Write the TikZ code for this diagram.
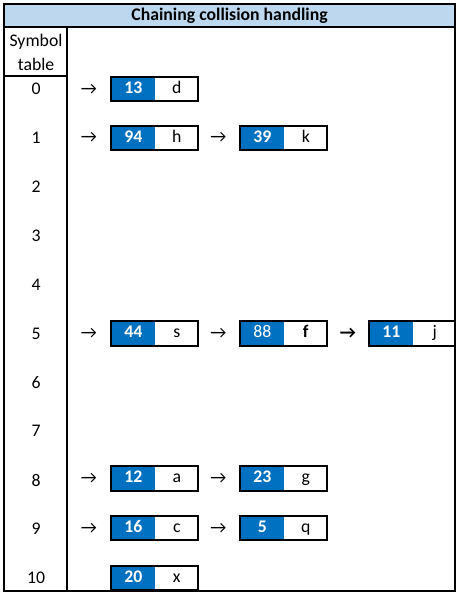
\documentclass[tikz,border=0pt]{standalone}
\usepackage{fontspec}
\setmainfont{Carlito}
\usetikzlibrary{positioning}
\definecolor{keyblue}{HTML}{0070C0}
\definecolor{titleblue}{HTML}{BDD7EE}
\newcommand\fs{\fontsize{13.3}{15}\selectfont}
\tikzset{
  frame/.style={draw=black, line width=1.5pt},
  cellbase/.style={minimum height=18pt, inner sep=0pt, anchor=west, text height=1.55ex, text depth=0.15ex},
  keycell/.style={cellbase, fill=keyblue, text=white, font=\fs\bfseries, minimum width=33pt},
  valcell/.style={cellbase, fill=white, text=black, font=\fs, minimum width=31.5pt},
  boxline/.style={draw=black, line width=1.5pt},
  idx/.style={font=\fs, inner sep=0pt},
  arr/.style={font=\fs, inner sep=0pt},
}
\newcommand\entry[5]{%
  \node[keycell] (#1k) at (#2,#3) {#4};
  \node[valcell, anchor=west] (#1v) at (#1k.east) {#5};
  \draw[boxline] (#1k.north west) rectangle (#1v.south east);
}
\begin{document}
\begin{tikzpicture}[x=0.75pt,y=-0.75pt]
\useasboundingbox (0,0) rectangle (460,596);
% title band
\fill[titleblue] (4,4) rectangle (455,27);
\node[font=\fs\bfseries, inner sep=0pt] (title) at (229.5,16) {Chaining collision handling};
% index column header
\node[idx] (h1) at (36,42) {Symbol};
\node[idx] (h2) at (36,64) {table};
% index numbers
\foreach \k in {0,...,10}{
  \node[idx] (i\k) at (36,{89+48.9*\k}) {\k};
}
% entries
\begin{scope}
\clip (4,4) rectangle (455,591);
\entry{e0a}{111}{89}{13}{d}
\entry{e1a}{111}{137.9}{94}{h}
\entry{e1b}{240}{137.9}{39}{k}
\entry{e5a}{111}{333.5}{44}{s}
\entry{e5b}{240}{333.5}{\mdseries 88}{\bfseries f}
\entry{e5c}{369}{333.5}{11}{j}
\entry{e8a}{111}{478.5}{12}{a}
\entry{e8b}{240}{478.5}{23}{g}
\entry{e9a}{111}{528}{16}{c}
\entry{e9b}{240}{528}{5}{q}
\entry{e10a}{111}{578}{20}{x}
\end{scope}
% arrows
\node[arr] (a0) at (89,89) {→};
\node[arr] (a1a) at (89,137.9) {→};
\node[arr] (a1b) at (218.5,137.9) {→};
\node[arr] (a5a) at (89,333.5) {→};
\node[arr] (a5b) at (218.5,333.5) {→};
\node[arr, font=\fs\bfseries] (a5c) at (348,333.5) {→};
\node[arr] (a8a) at (89,478.5) {→};
\node[arr] (a8b) at (218.5,478.5) {→};
\node[arr] (a9a) at (89,528) {→};
\node[arr] (a9b) at (218.5,528) {→};
% frame lines
\draw[frame] (4,27) -- (455,27);
\draw[frame] (67,27) -- (67,591);
\draw[frame] (4,76) -- (67,76);
\draw[frame] (4,4) rectangle (455,591);
\end{tikzpicture}
\end{document}
